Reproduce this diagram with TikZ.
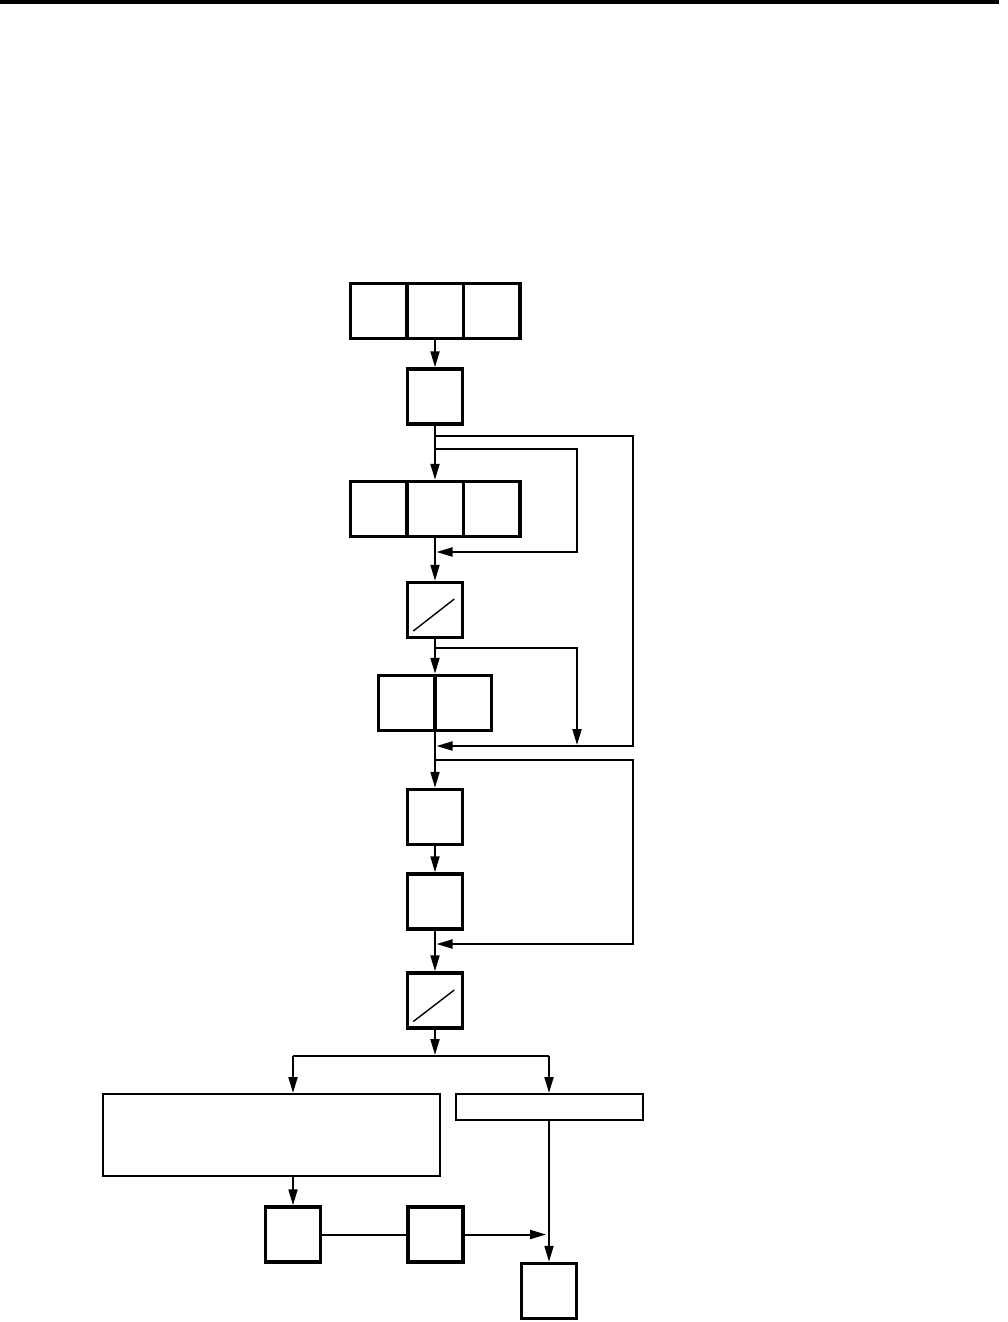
\documentclass[tikz,border=0pt]{standalone}
\usetikzlibrary{arrows.meta}
\begin{document}
\begin{tikzpicture}[x=1pt,y=-1pt,
  cell/.style={draw, line width=3.5pt, minimum width=56.5pt, minimum height=55pt, inner sep=0pt},
  sq/.style={cell, minimum width=55pt},
  thinbox/.style={draw, line width=2pt, inner sep=0pt},
  conn/.style={line width=2pt},
  arr/.style={conn, -{Triangle[length=16pt,width=9pt]}},
  slash/.style={line width=1.4pt},
]
\useasboundingbox (0,0) rectangle (1007,1322);
\fill (0,0) rectangle (999,4);

% top triple box
\node[cell] (Ta) at (378.5,311) {};
\node[cell] (Tb) at (435,311) {};
\node[cell] (Tc) at (491.5,311) {};
\node[sq] (B2) at (435,396.5) {};
% second triple box
\node[cell] (Ua) at (378.5,509) {};
\node[cell] (Ub) at (435,509) {};
\node[cell] (Uc) at (491.5,509) {};
% slash box 1
\node[sq] (S1) at (435,610) {};
% double box
\node[cell] (Da) at (406.75,703) {};
\node[cell] (Db) at (463.25,703) {};
\node[sq] (B3) at (435,817) {};
\node[sq] (B4) at (435,901.5) {};
\node[sq] (S2) at (435,1000.5) {};
% lower boxes
\node[thinbox, minimum width=337pt, minimum height=82pt] (L) at (271.5,1135) {};
\node[thinbox, minimum width=187pt, minimum height=26pt] (R) at (549,1107) {};
\node[sq] (C1) at (293,1234.5) {};
\node[sq] (C2) at (435.5,1234.5) {};
\node[sq] (C3) at (549,1291) {};

% slashes
\draw[slash] ([shift={(-21.7,21)}]S1.center) -- ([shift={(19.3,-11)}]S1.center);
\draw[slash] ([shift={(-21.7,21)}]S2.center) -- ([shift={(19.3,-10.5)}]S2.center);

% coordinates
\coordinate (j1) at (435,436);
\coordinate (ra) at (633,436);
\coordinate (rb) at (633,746);
\coordinate (ta) at (436.5,746);
\coordinate (j2) at (435,449);
\coordinate (rc) at (577,449);
\coordinate (rd) at (577,552);
\coordinate (tb) at (436.5,552);
\coordinate (j3) at (435,648);
\coordinate (re) at (577,648);
\coordinate (tc) at (577,745);
\coordinate (j4) at (435,760);
\coordinate (rf) at (633,760);
\coordinate (rg) at (633,944);
\coordinate (td) at (436.5,944);
\coordinate (sp) at (435,1055);
\coordinate (sl) at (293,1056);
\coordinate (sr) at (549,1056);
\coordinate (ce) at (546,1234.5);

% main line
\draw[arr] (Tb.south) -- (B2.north);
\draw[arr] (B2.south) -- (Ub.north);
\draw[arr] (Ub.south) -- (S1.north);
\draw[arr] (S1.south) -- (S1.south |- Da.north);
\draw[arr] (S1.south |- Da.south) -- (B3.north);
\draw[arr] (B3.south) -- (B4.north);
\draw[arr] (B4.south) -- (S2.north);
\draw[arr] (S2.south) -- (sp);

% loops
\draw[arr] (j1) -- (ra) -- (rb) -- (ta);
\draw[arr] (j2) -- (rc) -- (rd) -- (tb);
\draw[arr] (j3) -- (re) -- (tc);
\draw[arr] (j4) -- (rf) -- (rg) -- (td);

% split
\draw[conn] (sl) -- (sr);
\draw[arr] (sl) -- (sl |- L.north);
\draw[arr] (sr) -- (R.north);
\draw[arr] (C1 |- L.south) -- (C1.north);
\draw[conn] (C1.east) -- (C2.west);
\draw[arr] (C2.east) -- (ce);
\draw[arr] (R.south) -- (C3.north);
\end{tikzpicture}
\end{document}
